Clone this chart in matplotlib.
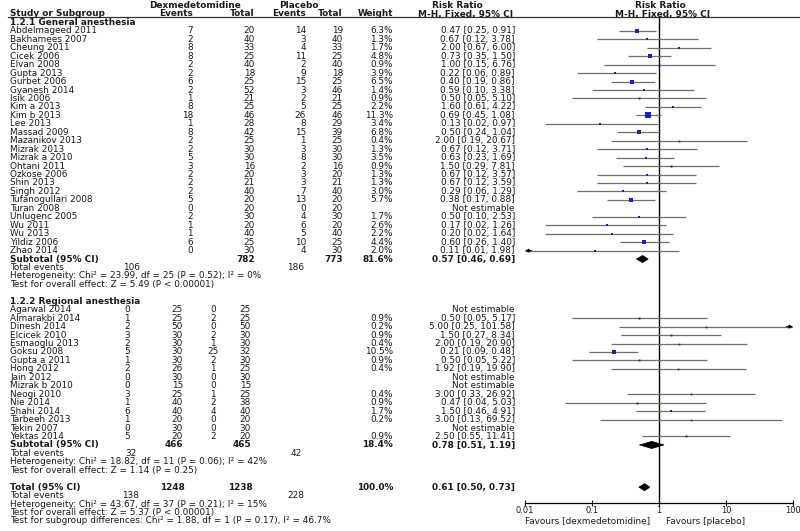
import numpy as np
import matplotlib.pyplot as plt
from matplotlib.patches import Polygon
from matplotlib.ticker import NullLocator

# ---- data: 1.2.1 General anesthesia
names1 = ["Abdelmageed 2011", "Bakhamees 2007", "Cheung 2011", "Cicek 2006", "Elvan 2008",
          "Gupta 2013", "Gurbet 2006", "Gyanesh 2014", "Isik 2006", "Kim a 2013", "Kim b 2013",
          "Lee 2013", "Massad 2009", "Mazanikov 2013", "Mizrak 2013", "Mizrak a 2010",
          "Ohtani 2011", "Ozkose 2006", "Shin 2013", "Singh 2012", "Tufanogullari 2008",
          "Turan 2008", "Unlugenc 2005", "Wu 2011", "Wu 2013", "Yildiz 2006", "Zhao 2014"]
dex_ev1 = [7, 2, 8, 8, 2, 2, 6, 2, 1, 8, 18, 1, 8, 2, 2, 5, 3, 2, 2, 2, 5, 0, 2, 1, 1, 6, 0]
dex_n1 = [20, 40, 33, 25, 40, 18, 25, 52, 21, 25, 46, 28, 42, 25, 30, 30, 16, 20, 21, 40, 20, 20, 30, 20, 40, 25, 30]
pla_ev1 = [14, 3, 4, 11, 2, 9, 15, 3, 2, 5, 26, 8, 15, 1, 3, 8, 2, 3, 3, 7, 13, 0, 4, 6, 5, 10, 4]
pla_n1 = [19, 40, 33, 25, 40, 18, 25, 46, 21, 25, 46, 29, 39, 25, 30, 30, 16, 20, 21, 40, 20, 20, 30, 20, 40, 25, 30]
weight1 = [6.3, 1.3, 1.7, 4.8, 0.9, 3.9, 6.5, 1.4, 0.9, 2.2, 11.3, 3.4, 6.8, 0.4, 1.3, 3.5,
           0.9, 1.3, 1.3, 3.0, 5.7, None, 1.7, 2.6, 2.2, 4.4, 2.0]
rr1 = [0.47, 0.67, 2.00, 0.73, 1.00, 0.22, 0.40, 0.59, 0.50, 1.60, 0.69, 0.13, 0.50, 2.00, 0.67,
       0.63, 1.50, 0.67, 0.67, 0.29, 0.38, None, 0.50, 0.17, 0.20, 0.60, 0.11]
lo1 = [0.25, 0.12, 0.67, 0.35, 0.15, 0.06, 0.19, 0.10, 0.05, 0.61, 0.45, 0.02, 0.24, 0.19, 0.12,
       0.23, 0.29, 0.12, 0.12, 0.06, 0.17, None, 0.10, 0.02, 0.02, 0.26, 0.01]
hi1 = [0.91, 3.78, 6.00, 1.50, 6.76, 0.89, 0.86, 3.38, 5.10, 4.22, 1.08, 0.97, 1.04, 20.67, 3.71,
       1.69, 7.81, 3.57, 3.59, 1.29, 0.88, None, 2.53, 1.26, 1.64, 1.40, 1.98]

# ---- data: 1.2.2 Regional anesthesia
names2 = ["Agarwal 2014", "Almarakbi 2014", "Dinesh 2014", "Elcicek 2010", "Esmaoglu 2013",
          "Goksu 2008", "Gupta a 2011", "Hong 2012", "Jain 2012", "Mizrak b 2010", "Neogi 2010",
          "Nie 2014", "Shahi 2014", "Tarbeeh 2013", "Tekin 2007", "Yektas 2014"]
dex_ev2 = [0, 1, 2, 3, 2, 5, 1, 2, 0, 0, 3, 1, 6, 1, 0, 5]
dex_n2 = [25, 25, 50, 30, 30, 30, 30, 26, 30, 15, 25, 40, 40, 20, 30, 20]
pla_ev2 = [0, 2, 0, 2, 1, 25, 2, 1, 0, 0, 1, 2, 4, 0, 0, 2]
pla_n2 = [25, 25, 50, 30, 30, 32, 30, 25, 30, 15, 25, 38, 40, 20, 30, 20]
weight2 = [None, 0.9, 0.2, 0.9, 0.4, 10.5, 0.9, 0.4, None, None, 0.4, 0.9, 1.7, 0.2, None, 0.9]
rr2 = [None, 0.50, 5.00, 1.50, 2.00, 0.21, 0.50, 1.92, None, None, 3.00, 0.47, 1.50, 3.00, None, 2.50]
lo2 = [None, 0.05, 0.25, 0.27, 0.19, 0.09, 0.05, 0.19, None, None, 0.33, 0.04, 0.46, 0.13, None, 0.55]
hi2 = [None, 5.17, 101.58, 8.34, 20.90, 0.48, 5.22, 19.90, None, None, 26.92, 5.03, 4.91, 69.52, None, 11.41]

# ---- pooled results
sub1 = dict(n_dex=782, n_pla=773, w="81.6%", rr=0.57, lo=0.46, hi=0.69, ev_dex=106, ev_pla=186,
            het="Heterogeneity: Chi\u00b2 = 23.99, df = 25 (P = 0.52); I\u00b2 = 0%",
            z="Test for overall effect: Z = 5.49 (P < 0.00001)")
sub2 = dict(n_dex=466, n_pla=465, w="18.4%", rr=0.78, lo=0.51, hi=1.19, ev_dex=32, ev_pla=42,
            het="Heterogeneity: Chi\u00b2 = 18.82, df = 11 (P = 0.06); I\u00b2 = 42%",
            z="Test for overall effect: Z = 1.14 (P = 0.25)")
tot = dict(n_dex=1248, n_pla=1238, w="100.0%", rr=0.61, lo=0.50, hi=0.73, ev_dex=138, ev_pla=228,
           het="Heterogeneity: Chi\u00b2 = 43.67, df = 37 (P = 0.21); I\u00b2 = 15%",
           z="Test for overall effect: Z = 5.37 (P < 0.00001)")
subgroup_test = "Test for subgroup differences: Chi\u00b2 = 1.88, df = 1 (P = 0.17), I\u00b2 = 46.7%"
tick_vals = [0.01, 0.1, 1, 10, 100]
tick_labels = ["0.01", "0.1", "1", "10", "100"]

# ---- layout (pixels)
W, H = 800, 531
ROW0, STEP = 5.55, 8.45
FS = 6.4
TXT = "#1a1a1a"
CI_COL = "#6f6f6f"
SQ_COL = "#1f1fb0"


def row_of(px):
    return (px - ROW0) / STEP


fig = plt.figure(figsize=(W / 100, H / 100), dpi=100)
plt.rcParams['font.family'] = ['DejaVu Sans']

# forest panel
ax = fig.add_axes([525 / W, (H - 503) / H, (793 - 525) / W, (503 - 17) / H])
ax.set_xscale('log')
ax.set_xlim(0.01, 100)
ax.set_ylim(row_of(503), row_of(17))
for s in ['left', 'right', 'top']:
    ax.spines[s].set_visible(False)
ax.spines['bottom'].set_linewidth(0.9)
ax.set_yticks([])
ax.set_xticks(tick_vals)
ax.set_xticklabels(tick_labels)
ax.xaxis.set_minor_locator(NullLocator())
ax.tick_params(axis='x', direction='inout', length=4, width=0.8, pad=0,
               labelsize=6.0, colors=TXT)
ax.axvline(1, color='black', lw=1.0, zorder=1)
ax.patch.set_alpha(0)


def study_mark(r, rr, lo, hi, w):
    if rr is None:
        return
    xl, xh = max(lo, 0.01), min(hi, 100)
    ax.plot([xl, xh], [r, r], color=CI_COL, lw=0.9, zorder=2, solid_capstyle='butt')
    if lo <= 0.01:
        ax.annotate('', xy=(0.01, r), xytext=(0.0125, r), annotation_clip=False,
                    arrowprops=dict(arrowstyle='-|>', color='black', lw=0.8,
                                    mutation_scale=5, shrinkA=0, shrinkB=0))
    if hi > 100:
        ax.annotate('', xy=(100, r), xytext=(80, r), annotation_clip=False,
                    arrowprops=dict(arrowstyle='-|>', color='black', lw=0.8,
                                    mutation_scale=5, shrinkA=0, shrinkB=0))
    size = (1.6 + 0.32 * w) * 0.72
    ax.plot([rr], [r], marker='s', ms=size, color=SQ_COL, mec=SQ_COL, mew=0, zorder=3)


def diamond(r, rr, lo, hi, h=0.42):
    ax.add_patch(Polygon([(lo, r), (rr, r - h), (hi, r), (rr, r + h)], closed=True,
                         facecolor='black', edgecolor='black', lw=0.5, zorder=4))


# text panel
tx = fig.add_axes([0, 0, 1, 1])
tx.set_xlim(0, W)
tx.set_ylim(row_of(H), row_of(0))
tx.axis('off')


def put(x, r, s, ha='left', bold=False):
    tx.text(x, r, s, ha=ha, va='center', fontsize=FS, color=TXT,
            fontweight='bold' if bold else 'normal')


def rr_text(rr, lo, hi):
    if rr is None:
        return "Not estimable"
    return f"{rr:.2f} [{lo:.2f}, {hi:.2f}]"


# headers
put(195, 0, "Dexmedetomidine", 'center', True)
put(299, 0, "Placebo", 'center', True)
put(457, 0, "Risk Ratio", 'center', True)
put(660, 0, "Risk Ratio", 'center', True)
put(10, 1, "Study or Subgroup", bold=True)
put(193, 1, "Events", 'right', True)
put(255, 1, "Total", 'right', True)
put(306, 1, "Events", 'right', True)
put(343, 1, "Total", 'right', True)
put(393, 1, "Weight", 'right', True)
put(466, 1, "M-H, Fixed, 95% CI", 'center', True)
put(663, 1, "M-H, Fixed, 95% CI", 'center', True)
tx.plot([8, 800], [row_of(17), row_of(17)], color='#333333', lw=0.9)

# section 1
put(10, 2, "1.2.1 General anesthesia", bold=True)
for i, nm in enumerate(names1):
    r = 3 + i
    put(10, r, nm)
    put(193, r, str(dex_ev1[i]), 'right')
    put(255, r, str(dex_n1[i]), 'right')
    put(306, r, str(pla_ev1[i]), 'right')
    put(343, r, str(pla_n1[i]), 'right')
    if weight1[i] is not None:
        put(393, r, f"{weight1[i]:.1f}%", 'right')
    put(515, r, rr_text(rr1[i], lo1[i], hi1[i]), 'right')
    study_mark(r, rr1[i], lo1[i], hi1[i], weight1[i])

r = 30
put(10, r, "Subtotal (95% CI)", bold=True)
put(255, r, str(sub1['n_dex']), 'right', True)
put(343, r, str(sub1['n_pla']), 'right', True)
put(393, r, sub1['w'], 'right', True)
put(515, r, rr_text(sub1['rr'], sub1['lo'], sub1['hi']), 'right', True)
diamond(r, sub1['rr'], sub1['lo'], sub1['hi'])
put(10, 31, "Total events")
put(131, 31, str(sub1['ev_dex']), 'center')
put(296, 31, str(sub1['ev_pla']), 'center')
put(10, 32, sub1['het'])
put(10, 33, sub1['z'])

# section 2
put(10, 35, "1.2.2 Regional anesthesia", bold=True)
for i, nm in enumerate(names2):
    r = 36 + i
    put(10, r, nm)
    put(127, r, str(dex_ev2[i]), 'center')
    put(183, r, str(dex_n2[i]), 'right')
    put(213, r, str(pla_ev2[i]), 'center')
    put(251, r, str(pla_n2[i]), 'right')
    if weight2[i] is not None:
        put(393, r, f"{weight2[i]:.1f}%", 'right')
    put(515, r, rr_text(rr2[i], lo2[i], hi2[i]), 'right')
    study_mark(r, rr2[i], lo2[i], hi2[i], weight2[i])

r = 52
put(10, r, "Subtotal (95% CI)", bold=True)
put(183, r, str(sub2['n_dex']), 'right', True)
put(251, r, str(sub2['n_pla']), 'right', True)
put(393, r, sub2['w'], 'right', True)
put(515, r, rr_text(sub2['rr'], sub2['lo'], sub2['hi']), 'right', True)
diamond(r, sub2['rr'], sub2['lo'], sub2['hi'])
put(10, 53, "Total events")
put(131, 53, str(sub2['ev_dex']), 'center')
put(296, 53, str(sub2['ev_pla']), 'center')
put(10, 54, sub2['het'])
put(10, 55, sub2['z'])

# overall
r = 57
put(10, r, "Total (95% CI)", bold=True)
put(185, r, str(tot['n_dex']), 'right', True)
put(253, r, str(tot['n_pla']), 'right', True)
put(393, r, tot['w'], 'right', True)
put(515, r, rr_text(tot['rr'], tot['lo'], tot['hi']), 'right', True)
diamond(r, tot['rr'], tot['lo'], tot['hi'])
put(10, 58, "Total events")
put(131, 58, str(tot['ev_dex']), 'center')
put(296, 58, str(tot['ev_pla']), 'center')
put(10, 59, tot['het'])
put(10, 60, tot['z'])
put(10, 61, subgroup_test)

put(650, row_of(521), "Favours [dexmedetomidine]", 'right')
put(666, row_of(521), "Favours [placebo]", 'left')

fig.savefig("out.png", dpi=100)
